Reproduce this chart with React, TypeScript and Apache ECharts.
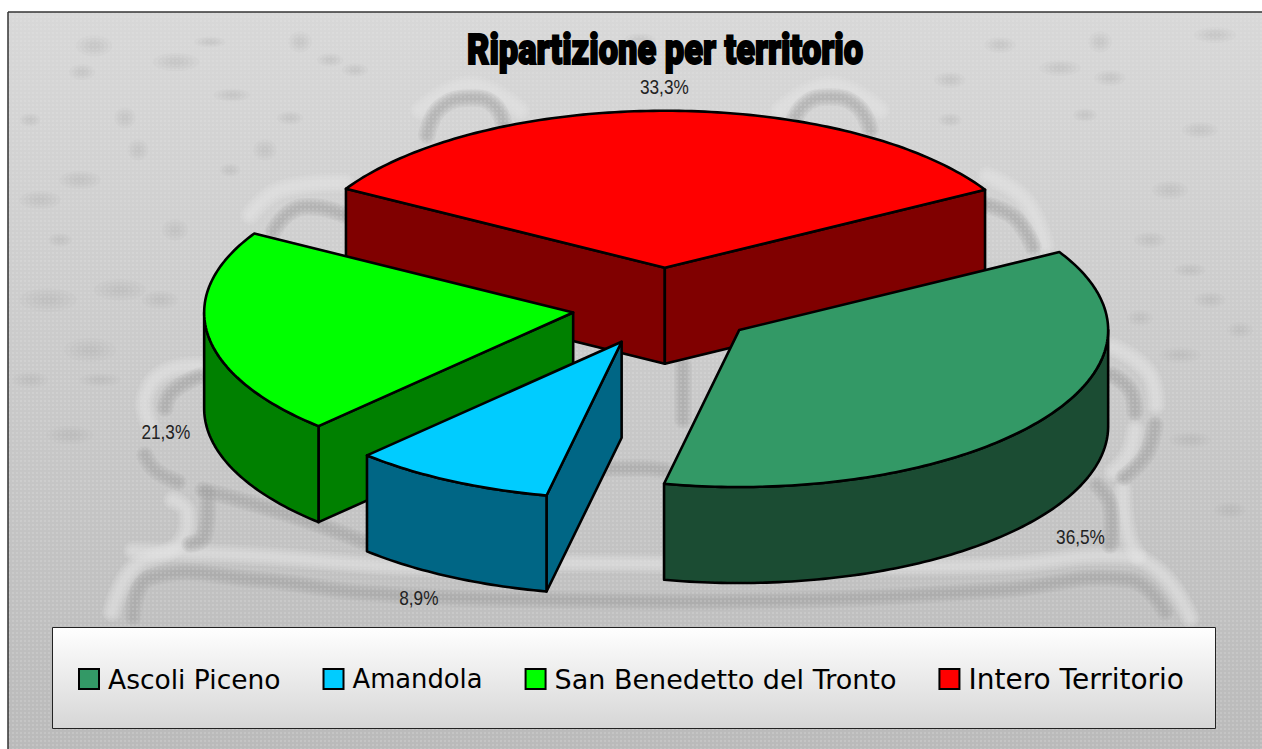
import React, { useEffect, useRef } from "react";
import * as echarts from "echarts";

const CATEGORIES = ["Ascoli Piceno", "Amandola", "San Benedetto del Tronto", "Intero Territorio"];
const VALUES = [36.54, 8.86, 21.27, 33.33];
const LABELS = ["36,5%", "8,9%", "21,3%", "33,3%"];
const TOP_COLORS = ["#339966", "#00ccff", "#00ff00", "#ff0000"];
const SIDE_COLORS = ["#1b4c33", "#006685", "#008000", "#800000"];
const DRAW_ORDER = [3, 2, 0, 1];
const TITLE = "Ripartizione per territorio";

const START_DEG = 60.2;
const CX = 664.5, CY = 307, RX = 369, RY = 157, DEPTH = 96, EXPLODE = 0.25;
const LABEL_REACH = [1.133, 1.2, 1.115, 1.146];
const LABEL_DROP = [102, 89, 95, -1];
const LABEL_NUDGE = [3, 3, 0, -2];
const LEGEND_FONT_SIZES = [26.5, 25.8, 27, 28];

const LIGHT_RIDGES: number[][][] = [
  [[133, 551], [260, 556], [420, 567], [560, 563], [800, 566], [1000, 565], [1120, 556], [1160, 572], [1190, 618]],
  [[173, 500], [187, 512], [178, 545], [133, 568], [112, 612]],
  [[205, 366], [165, 372], [145, 398], [150, 425]],
  [[1113, 347], [1148, 372], [1156, 405]],
  [[1135, 430], [1128, 455], [1113, 472]],
  [[1123, 490], [1128, 535], [1138, 556]],
  [[987, 176], [1025, 200], [1045, 245]],
  [[250, 215], [280, 190], [345, 183]],
  [[420, 110], [470, 85], [520, 110]],
  [[780, 110], [830, 85], [880, 110]],
];
const DARK_RIDGES: number[][][] = [
  [[133, 617], [150, 578], [260, 580], [367, 593], [560, 600], [800, 600], [1000, 590], [1130, 580], [1165, 612]],
  [[203, 490], [290, 515], [367, 543]],
  [[207, 493], [204, 537], [190, 544]],
  [[200, 376], [172, 392], [165, 408]],
  [[145, 455], [155, 470], [178, 482]],
  [[1112, 375], [1130, 390], [1135, 412]],
  [[1155, 425], [1146, 455], [1124, 477]],
  [[1097, 485], [1110, 505], [1110, 545]],
  [[987, 205], [1015, 218], [1033, 247]],
  [[273, 232], [290, 212], [314, 207], [345, 215]],
  [[427, 135], [440, 108], [470, 98], [495, 106], [506, 135]],
  [[790, 135], [803, 106], [830, 97], [857, 106], [870, 130]],
  [[560, 470], [640, 468], [665, 470]],
  [[683, 365], [683, 420]],
];
const BLOTCHES: number[][] = [
  [94, 46, 14, 8], [176, 62, 18, 7], [82, 72, 10, 6], [210, 42, 12, 4], [125, 118, 8, 8], [138, 150, 8, 8],
  [265, 150, 9, 8], [80, 180, 16, 7], [232, 95, 14, 5], [290, 118, 10, 5], [300, 42, 9, 8], [355, 70, 10, 5],
  [40, 200, 16, 7], [175, 230, 10, 8], [230, 170, 8, 5], [48, 300, 22, 9], [120, 290, 20, 8], [90, 350, 20, 9],
  [160, 300, 14, 7], [60, 240, 9, 5], [70, 435, 18, 7], [100, 380, 16, 5], [30, 380, 14, 6],
  [1000, 45, 12, 6], [1100, 42, 9, 8], [1060, 68, 16, 6], [1215, 35, 16, 6], [1110, 78, 12, 6], [950, 80, 12, 6],
  [1200, 130, 14, 6], [1170, 190, 14, 7], [1150, 240, 12, 6], [1210, 300, 12, 6], [1140, 318, 10, 6],
  [1240, 330, 10, 6], [1190, 440, 16, 6], [1230, 510, 12, 6], [1190, 270, 12, 5], [1180, 355, 16, 6],
  [330, 60, 10, 5], [640, 40, 12, 5], [950, 120, 9, 5], [30, 120, 8, 5], [1085, 115, 9, 5],
];
const BAYER = [
  [0, 8, 2, 10],
  [12, 4, 14, 6],
  [3, 11, 1, 9],
  [15, 7, 13, 5],
];

const deg = (d: number) => (d * Math.PI) / 180;
const point = (c: number[], a: number) => [c[0] + RX * Math.sin(a), c[1] - RY * Math.cos(a)];
const arc = (c: number[], a0: number, a1: number) => {
  const pts: number[][] = [];
  const n = Math.max(2, Math.ceil((a1 - a0) / deg(1)));
  for (let i = 0; i <= n; i++) pts.push(point(c, a0 + ((a1 - a0) * i) / n));
  return pts;
};
const lower = (pts: number[][]) => pts.map((p) => [p[0], p[1] + DEPTH]);

function sliceAngles(index: number) {
  const total = VALUES.reduce((s, v) => s + v, 0);
  const before = VALUES.slice(0, index).reduce((s, v) => s + v, 0);
  const a0 = deg(START_DEG) + (before / total) * Math.PI * 2;
  return [a0, a0 + (VALUES[index] / total) * Math.PI * 2];
}

function renderSlice(index: number) {
  return () => {
    const [a0, a1] = sliceAngles(index);
    const mid = (a0 + a1) / 2;
    const apex = [CX + EXPLODE * RX * Math.sin(mid), CY - EXPLODE * RY * Math.cos(mid)];
    const line = { stroke: "#000", lineWidth: 2.6, lineJoin: "round" };
    const side = { ...line, fill: SIDE_COLORS[index] };
    const children: any[] = [];
    const faces: number[] = [];
    if (Math.sin(a0) < 0) faces.push(a0);
    if (Math.sin(a1) > 0) faces.push(a1);
    for (const a of faces) {
      const e = point(apex, a);
      children.push({
        type: "polygon",
        shape: { points: [apex, e, [e[0], e[1] + DEPTH], [apex[0], apex[1] + DEPTH]] },
        style: side,
      });
    }
    const b0 = Math.max(a0, deg(90));
    const b1 = Math.min(a1, deg(270));
    if (b1 > b0) {
      const top = arc(apex, b0, b1);
      children.push({
        type: "polygon",
        shape: { points: [...top, ...lower(top).reverse()] },
        style: side,
      });
    }
    children.push({
      type: "polygon",
      shape: { points: [apex, ...arc(apex, a0, a1)] },
      style: { ...line, fill: TOP_COLORS[index] },
    });
    const k = LABEL_REACH[index];
    children.push({
      type: "text",
      x: apex[0] + k * RX * Math.sin(mid) + LABEL_NUDGE[index],
      y: apex[1] - k * RY * Math.cos(mid) + LABEL_DROP[index],
      scaleX: 0.82,
      style: {
        text: LABELS[index],
        x: 0,
        y: 0,
        fill: "#222",
        fontFamily: "'Liberation Sans'",
        fontSize: 21,
        align: "center",
        verticalAlign: "middle",
      },
    });
    return { type: "group", children };
  };
}

function softStroke(points: number[][], color: string, width: number) {
  return [2.2, 1.8, 1.4, 1.0, 0.6].map((w) => ({
    type: "polyline",
    silent: true,
    shape: { points, smooth: 0.45 },
    style: { stroke: color, lineWidth: width * w, opacity: 0.16, fill: "none", lineCap: "round", lineJoin: "round" },
  }));
}

function ditherTile() {
  const canvas = document.createElement("canvas");
  canvas.width = 4;
  canvas.height = 4;
  const ctx = canvas.getContext("2d")!;
  BAYER.forEach((row, y) =>
    row.forEach((v, x) => {
      ctx.fillStyle = v % 4 === 0 ? "rgba(235,235,235,0.2)" : "rgba(0,0,0,0)";
      ctx.fillRect(x, y, 1, 1);
    })
  );
  return canvas.toDataURL();
}

function backdrop() {
  const items: any[] = [
    {
      type: "rect",
      silent: true,
      shape: { x: 8, y: 12, width: 1254, height: 737 },
      style: {
        fill: {
          type: "linear", x: 0, y: 0, x2: 0, y2: 1,
          colorStops: [
            { offset: 0, color: "#d8d8d8" },
            { offset: 0.55, color: "#c8c8c8" },
            { offset: 1, color: "#bababa" },
          ],
        },
      },
    },
  ];
  for (const [x, y, rx, ry] of BLOTCHES) {
    for (const f of [1.3, 1, 0.7, 0.4]) {
      items.push({
        type: "ellipse",
        silent: true,
        shape: { cx: x, cy: y, rx: rx * f, ry: ry * f },
        style: { fill: "#a8a8a8", opacity: 0.08 },
      });
    }
  }
  for (const r of LIGHT_RIDGES) items.push(...softStroke(r, "#e6e6e6", 9));
  for (const r of DARK_RIDGES) items.push(...softStroke(r, "#a0a0a0", 8));
  items.push({
    type: "rect",
    silent: true,
    shape: { x: 8, y: 12, width: 1254, height: 737 },
    style: { fill: { image: ditherTile(), repeat: "repeat" } },
  });
  items.push(
    { type: "line", silent: true, shape: { x1: 8, y1: 12, x2: 1262, y2: 12 }, style: { stroke: "#333", lineWidth: 1.5 } },
    { type: "line", silent: true, shape: { x1: 8, y1: 12, x2: 8, y2: 749 }, style: { stroke: "#333", lineWidth: 1.5 } },
    {
      type: "rect",
      silent: true,
      shape: { x: 52.5, y: 627.5, width: 1163, height: 101 },
      style: {
        stroke: "#222",
        lineWidth: 1,
        fill: {
          type: "linear", x: 0, y: 0, x2: 0, y2: 1,
          colorStops: [
            { offset: 0, color: "#ffffff" },
            { offset: 1, color: "#d6d6d6" },
          ],
        },
      },
    },
    {
      type: "text",
      silent: true,
      x: 665,
      y: 50,
      scaleX: 0.8,
      style: {
        text: TITLE,
        x: 0,
        y: 0,
        align: "center",
        verticalAlign: "middle",
        fontFamily: "Roboto",
        fontWeight: 900,
        fontSize: 43,
        fill: "#000",
        stroke: "#000",
        lineWidth: 2,
      },
    }
  );
  return items;
}

export default function App() {
  const ref = useRef<HTMLDivElement>(null);
  useEffect(() => {
    const chart = echarts.init(ref.current!, undefined, { renderer: "svg" });
    chart.setOption({
      animation: false,
      backgroundColor: "#ffffff",
      legend: {
        left: 78,
        top: 665,
        padding: 0,
        itemGap: 42,
        itemWidth: 20,
        itemHeight: 20,
        icon: "rect",
        data: CATEGORIES.map((name, i) => ({
          name,
          textStyle: { fontSize: LEGEND_FONT_SIZES[i], padding: [0, 0, 0, 4] },
        })),
        itemStyle: { borderColor: "#000", borderWidth: 2 },
        textStyle: { fontFamily: "'DejaVu Sans'", color: "#000" },
      },
      graphic: { elements: backdrop() },
      series: DRAW_ORDER.map((i) => ({
        type: "custom",
        name: CATEGORIES[i],
        coordinateSystem: "none",
        silent: true,
        itemStyle: { color: TOP_COLORS[i] },
        data: [[VALUES[i]]],
        renderItem: renderSlice(i),
      })),
    });
    return () => chart.dispose();
  }, []);
  return <div ref={ref} style={{ position: "fixed", left: 0, top: 0, width: 1262, height: 749 }} />;
}
